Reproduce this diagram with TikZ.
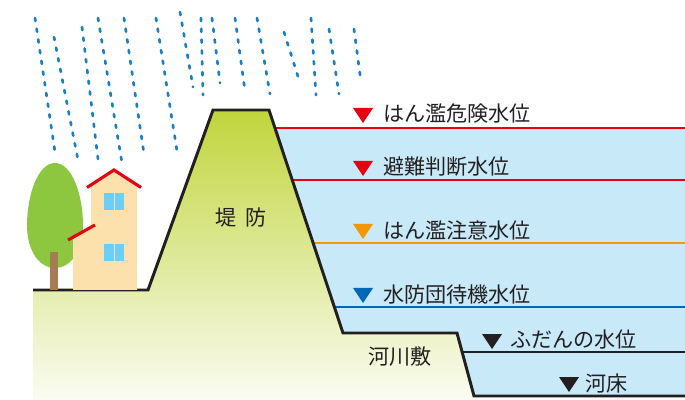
\documentclass[tikz,border=0pt]{standalone}
\usepackage{fontspec}
\newfontfamily\jpfont{Noto Sans CJK JP}
\definecolor{inkgray}{HTML}{231F20}
\definecolor{waterblue}{HTML}{C8E9F8}
\definecolor{levelred}{HTML}{E60012}
\definecolor{levelorange}{HTML}{F39800}
\definecolor{levelblue}{HTML}{0068B7}
\definecolor{rainblue}{HTML}{1B7FC4}
\definecolor{leveegreen}{HTML}{C0D53B}
\definecolor{groundmid}{HTML}{DCE79A}
\definecolor{groundpale}{HTML}{FBFCF3}
\definecolor{leafgreen}{HTML}{8DC63F}
\definecolor{trunkbrown}{HTML}{A67C52}
\definecolor{wallcream}{HTML}{FDE1AD}
\definecolor{glassblue}{HTML}{6DCFF6}

\begin{document}
\begin{tikzpicture}[x=0.025cm, y=-0.025cm,
  every node/.style={font=\jpfont\fontsize{15}{18}\selectfont, text=inkgray, inner sep=0pt},
  rain/.style={rainblue, line width=1.9pt, dash pattern=on 2.2pt off 5.5pt, line cap=round},
  levline/.style={line width=1.8pt},
  outline/.style={inkgray, line width=2.1pt, line join=miter},
  roof/.style={levelred, line width=2.2pt}]
  \useasboundingbox (0,0) rectangle (685,400);

  % rain
  \foreach \xa/\ya/\xb/\yb in {35/18/55/152, 54/37/78/160, 82/27/98/159, 98/18/122/163,
      124/18/144/154, 156/18/177/151, 180/12/193/87, 201/18/203/95, 212/18/220/83,
      235/18/245/91, 257/18/270/94, 284/32/300/83, 311/18/316/95, 329/29/339/94, 354/29/361/82}
    \draw[rain] (\xa,\ya) -- (\xb,\yb);

  % corners of the bank profile
  \coordinate (landend) at (33,290);
  \coordinate (toe) at (148,290);
  \coordinate (crestl) at (213,110);
  \coordinate (crestr) at (269,110);
  \coordinate (bermin) at (343,333);
  \coordinate (bermout) at (457,333);
  \coordinate (bedl) at (474,396);
  \coordinate (bedr) at (685,396);

  % river water and the level lines
  \fill[waterblue] (275,128) -- (685,128) -- (bedr) -- (bedl) -- (bermout) -- (bermin) -- cycle;
  \foreach \ly/\cc in {128/levelred, 180/levelred, 243/levelorange, 307/levelblue, 352/inkgray}
    \draw[levline, \cc] (250,\ly) -- (685,\ly);

  % levee and ground
  \shade[top color=leveegreen, middle color=groundmid, bottom color=groundpale]
    (landend) -- (toe) -- (crestl) -- (crestr) -- (bermin) -- (bermout) -- (bedl)
    -- (474,400) -- (33,400) -- cycle;
  \draw[outline] (landend) -- (toe) -- (crestl) -- (crestr) -- (bermin) -- (bermout)
    -- (bedl) -- (bedr);

  % tree
  \fill[leafgreen] (55,163) .. controls (38,163) and (27,195) .. (27,225)
    .. controls (27,252) and (40,268) .. (55,268)
    .. controls (70,268) and (83,252) .. (83,225)
    .. controls (83,195) and (72,163) .. (55,163);
  \fill[trunkbrown] (50,252) rectangle (58,290);

  % house
  \fill[wallcream] (73,290) -- (73,239) -- (91,229) -- (91,186) -- (114,171)
    -- (137,186) -- (137,290) -- cycle;
  \draw[roof] (87,187.5) -- (114,170) -- (141,187.5);
  \draw[roof] (68,240) -- (95,225);
  \foreach \wy in {193,244} {
    \fill[glassblue] (104,\wy) rectangle ++(10,17);
    \fill[glassblue] (115,\wy) rectangle ++(9,17);
  }

  % level marks and names
  \foreach \nm/\ty/\cc/\tx/\lx/\txt in {
      danger/114/levelred/363/383/はん濫危険水位,
      evac/167/levelred/363/383/避難判断水位,
      caution/230/levelorange/363/383/はん濫注意水位,
      standby/294/levelblue/363/383/水防団待機水位,
      normal/340/inkgray/492/510/ふだんの水位,
      bed/383/inkgray/569/585/河床} {
    \node[anchor=west] (\nm) at (\lx,\ty) {\txt};
    \fill[\cc] (\tx-10,\ty-6) -- (\tx+10,\ty-6) -- (\tx,\ty+9) -- cycle;
  }

  \node (levee) at (241,217) {堤\hspace{0.45em}防};
  \node (floodplain) at (400,357) {河川敷};
\end{tikzpicture}
\end{document}
